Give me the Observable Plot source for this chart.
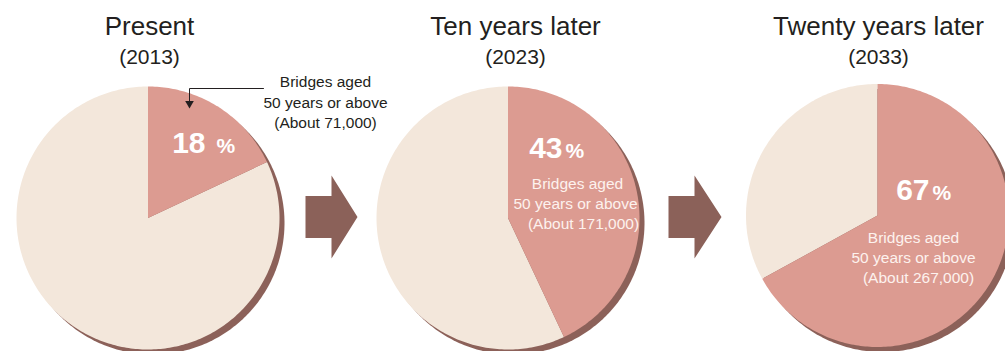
<!DOCTYPE html>
<html>
<head>
<meta charset="utf-8">
<script src="https://cdn.jsdelivr.net/npm/d3@7"></script>
<script src="https://cdn.jsdelivr.net/npm/@observablehq/plot@0.6"></script>
<style>
  html, body { margin: 0; padding: 0; background: #ffffff; }
  #chart { width: 1005px; height: 351px; overflow: hidden; }
</style>
</head>
<body>
<div id="chart"></div>
<script>
// ---------- data ----------
const periods = ["Present", "Ten years later", "Twenty years later"];
const years = ["(2013)", "(2023)", "(2033)"];
const agedShare = [18, 43, 67];               // % of bridges aged 50 years or above
const agedCount = ["71,000", "171,000", "267,000"];
const noteLines = ["Bridges aged", "50 years or above"];

// ---------- layout ----------
const pieCX = [147.5, 507.5, 877];
const pieCY = [217.5, 217.5, 215];
const R = 131.5;
const shadowOff = [5, 5];
const titleX = [149, 515, 878];
const titleY = 34, yearY = 63;
const noteX = [[325, 325, 325], [577, 575, 583], [913, 913, 918]];
const noteY = [[86, 107, 127], [188, 208, 228], [242, 262, 282]];
const noteFill = ["#231f20", "#fdf2ee", "#fdf2ee"];
const pctNumEnd = [205, 562, 929];
const pctSignStart = [216, 565, 932];
const pctY = [152, 157, 199];
const arrows = [{x0: 305, x1: 331, x2: 357}, {x0: 668, x1: 694, x2: 721}];
const arrowY = 216.5, bodyHalf = 21, headHalf = 41.5;

const C = {aged: "#dc9b91", rest: "#f3e7db", shadow: "#8c6159", arrow: "#8b6159", text: "#231f20"};

// ---------- geometry from values ----------
function arcPts(key, cx, cy, r, a0, a1, withCenter) {
  const pts = [];
  if (withCenter) pts.push({k: key, x: cx, y: cy});
  const n = Math.max(2, Math.ceil((a1 - a0) / (Math.PI / 180)));
  for (let s = 0; s <= n; s++) {
    const a = a0 + (a1 - a0) * s / n;
    pts.push({k: key, x: cx + r * Math.sin(a), y: cy - r * Math.cos(a)});
  }
  return pts;
}
const shadowPts = [], agedPts = [], restPts = [];
agedShare.forEach((v, i) => {
  const cut = v / 100 * 2 * Math.PI;
  shadowPts.push(...arcPts("s" + i, pieCX[i] + shadowOff[0], pieCY[i] + shadowOff[1], R, 0, 2 * Math.PI, false));
  agedPts.push(...arcPts("a" + i, pieCX[i], pieCY[i], R, 0, cut, true));
  restPts.push(...arcPts("r" + i, pieCX[i], pieCY[i], R, cut, 2 * Math.PI, true));
});

const arrowPts = [];
arrows.forEach((a, i) => {
  [[a.x0, -bodyHalf], [a.x1, -bodyHalf], [a.x1, -headHalf], [a.x2, 0], [a.x1, headHalf], [a.x1, bodyHalf], [a.x0, bodyHalf]]
    .forEach(([x, dy]) => arrowPts.push({k: i, x, y: arrowY + dy}));
});

const titles = periods.map((t, i) => ({t, x: titleX[i], y: titleY}));
const yearLabels = years.map((t, i) => ({t, x: titleX[i], y: yearY}));
const notes = [];
agedCount.forEach((c, i) => {
  [...noteLines, `(About ${c})`].forEach((t, j) => notes.push({t, x: noteX[i][j], y: noteY[i][j], f: noteFill[i]}));
});
const pctNums = agedShare.map((v, i) => ({t: String(v), x: pctNumEnd[i], y: pctY[i]}));
const pctSigns = agedShare.map((v, i) => ({t: "%", x: pctSignStart[i], y: pctY[i]}));

const sans = "'Liberation Sans', Arial, Helvetica, sans-serif";

const chart = Plot.plot({
  width: 1005,
  height: 351,
  margin: 0,
  x: {domain: [0, 1005], range: [0, 1005], axis: null},
  y: {domain: [0, 351], range: [0, 351], axis: null},
  style: {background: "#ffffff", overflow: "hidden"},
  marks: [
    Plot.line(shadowPts, {x: "x", y: "y", z: "k", fill: C.shadow, stroke: "none"}),
    Plot.line(restPts, {x: "x", y: "y", z: "k", fill: C.rest, stroke: "none"}),
    Plot.line(agedPts, {x: "x", y: "y", z: "k", fill: C.aged, stroke: "none"}),
    Plot.line(arrowPts, {x: "x", y: "y", z: "k", fill: C.arrow, stroke: "none"}),
    // leader for the first pie's note
    Plot.line([{x: 263, y: 88}, {x: 189, y: 88}, {x: 189, y: 101}], {x: "x", y: "y", stroke: "#231f20", strokeWidth: 1}),
    Plot.dot([{x: 189, y: 103}], {x: "x", y: "y", symbol: "triangle", rotate: 180, r: 3.2, fill: "#231f20", stroke: "none"}),
    Plot.text(titles, {x: "x", y: "y", text: "t", fontSize: 26, lineAnchor: "bottom", fill: C.text, fontFamily: sans}),
    Plot.text(yearLabels, {x: "x", y: "y", text: "t", fontSize: 21, lineAnchor: "bottom", fill: C.text, fontFamily: sans}),
    Plot.text(notes, {x: "x", y: "y", text: "t", fontSize: 15.5, lineAnchor: "bottom", fill: "f", fontFamily: sans}),
    Plot.text(pctNums, {x: "x", y: "y", text: "t", fontSize: 30, fontWeight: "bold", textAnchor: "end", lineAnchor: "bottom", fill: "#ffffff", fontFamily: sans}),
    Plot.text(pctSigns, {x: "x", y: "y", text: "t", fontSize: 21, fontWeight: "bold", textAnchor: "start", lineAnchor: "bottom", fill: "#ffffff", fontFamily: sans})
  ]
});
document.getElementById("chart").appendChild(chart);
</script>
</body>
</html>
